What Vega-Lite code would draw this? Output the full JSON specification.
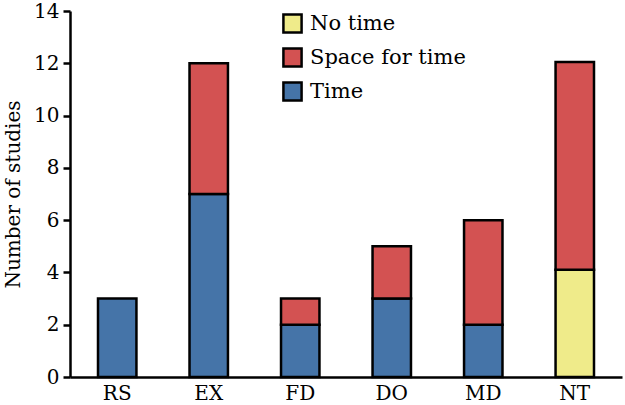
{
  "$schema": "https://vega.github.io/schema/vega-lite/v6.json",
  "width": 552,
  "height": 366,
  "autosize": {"type": "none"},
  "padding": {"left": 70, "top": 11, "right": 3, "bottom": 28},
  "background": "white",
  "config": {
    "view": {"stroke": null},
    "font": "DejaVu Serif"
  },
  "data": {
    "values": [
      {"method": "RS", "type": "Time", "count": 3, "ord": 0},
      {"method": "EX", "type": "Time", "count": 7, "ord": 0},
      {"method": "EX", "type": "Space for time", "count": 5, "ord": 1},
      {"method": "FD", "type": "Time", "count": 2, "ord": 0},
      {"method": "FD", "type": "Space for time", "count": 1, "ord": 1},
      {"method": "DO", "type": "Time", "count": 3, "ord": 0},
      {"method": "DO", "type": "Space for time", "count": 2, "ord": 1},
      {"method": "MD", "type": "Time", "count": 2, "ord": 0},
      {"method": "MD", "type": "Space for time", "count": 4, "ord": 1},
      {"method": "NT", "type": "No time", "count": 4.1, "ord": 0},
      {"method": "NT", "type": "Space for time", "count": 7.95, "ord": 1}
    ]
  },
  "mark": {"type": "bar", "stroke": "black", "strokeWidth": 2.5},
  "encoding": {
    "x": {
      "field": "method",
      "type": "nominal",
      "sort": ["RS", "EX", "FD", "DO", "MD", "NT"],
      "scale": {"paddingInner": 0.58, "paddingOuter": 0.306},
      "axis": {
        "title": null,
        "labelAngle": 0,
        "labelFontSize": 20,
        "labelColor": "black",
        "labelPadding": 6,
        "ticks": false,
        "domainColor": "black",
        "domainWidth": 2.5
      }
    },
    "y": {
      "field": "count",
      "type": "quantitative",
      "stack": "zero",
      "scale": {"domain": [0, 14]},
      "axis": {
        "title": "Number of studies",
        "titleFontSize": 20,
        "titleFontWeight": "normal",
        "titleColor": "black",
        "titlePadding": 10,
        "values": [0, 2, 4, 6, 8, 10, 12, 14],
        "grid": false,
        "labelFontSize": 20,
        "labelColor": "black",
        "labelPadding": 4,
        "tickColor": "black",
        "tickWidth": 2.5,
        "tickSize": 7,
        "domainColor": "black",
        "domainWidth": 2.5
      }
    },
    "color": {
      "field": "type",
      "type": "nominal",
      "scale": {
        "domain": ["No time", "Space for time", "Time"],
        "range": ["#EFEB8A", "#D35252", "#4574A8"]
      },
      "legend": {
        "title": null,
        "orient": "none",
        "legendX": 212,
        "legendY": 2,
        "symbolType": "square",
        "symbolSize": 330,
        "symbolStrokeColor": "black",
        "symbolStrokeWidth": 2.5,
        "symbolOpacity": 1,
        "labelFontSize": 21,
        "labelColor": "black",
        "labelOffset": 7,
        "rowPadding": 5,
        "labelLimit": 300
      }
    },
    "order": {"field": "ord", "type": "quantitative"}
  }
}
